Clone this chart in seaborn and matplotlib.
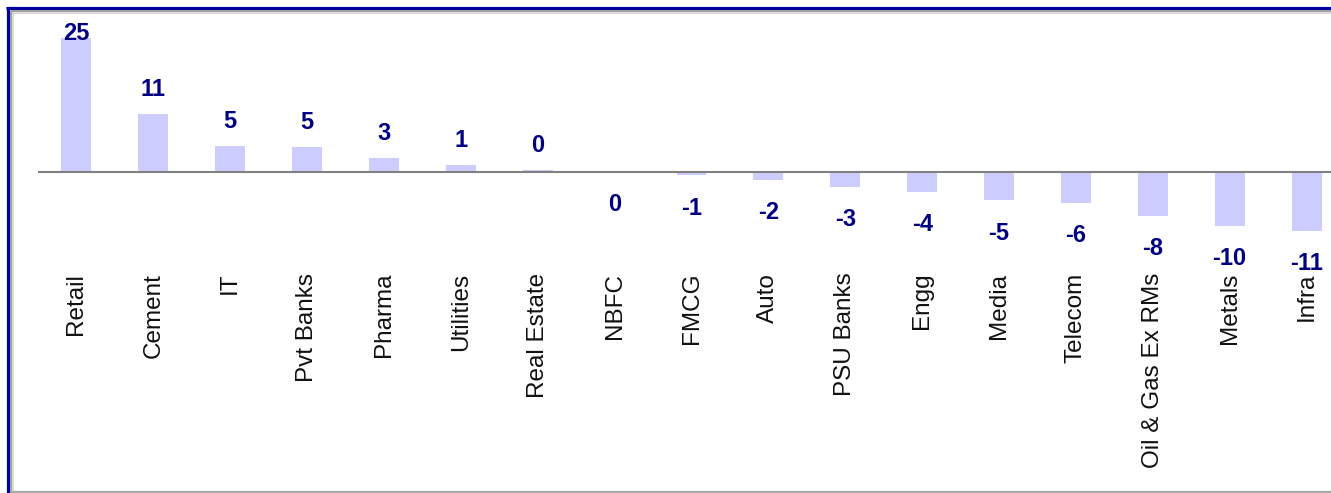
import matplotlib
matplotlib.use("Agg")
import matplotlib.pyplot as plt
from matplotlib.lines import Line2D
import seaborn as sns
import pandas as pd

# Sector performance (%)
sectors = ["Retail", "Cement", "IT", "Pvt Banks", "Pharma", "Utilities",
           "Real Estate", "NBFC", "FMCG", "Auto", "PSU Banks", "Engg",
           "Media", "Telecom", "Oil & Gas Ex RMs", "Metals", "Infra"]
returns = [25.2, 10.9, 4.8, 4.6, 2.6, 1.3, 0.4, -0.1, -0.7, -1.6, -2.8,
           -3.8, -5.4, -5.9, -8.4, -10.3, -11.1]

BAR_COLOR = "#CCCCFF"
LABEL_COLOR = "#000080"

sns.set_style("white")
plt.rcParams["font.family"] = ["Liberation Sans", "DejaVu Sans"]

W, H = 1331, 493
fig = plt.figure(figsize=(W / 100, H / 100), dpi=100)
fig.patch.set_facecolor("white")

# plot area in pixel terms, extending slightly past the right edge
left_px, right_px = 38.0, 1345.0
top_px, bottom_px = 18.0, 265.0
ax = fig.add_axes([left_px / W, 1 - bottom_px / H,
                   (right_px - left_px) / W, (bottom_px - top_px) / H])

df = pd.DataFrame({"sector": sectors, "ret": returns})
sns.barplot(data=df, x="sector", y="ret", order=sectors, color=BAR_COLOR,
            saturation=1, width=0.39, linewidth=0, ax=ax)

zero_px, px_per_unit = 171.7, 5.3
ymax = (zero_px - top_px) / px_per_unit
ymin = -(bottom_px - zero_px) / px_per_unit
ax.set_ylim(ymin, ymax)
ax.set_xlim(-0.5, len(sectors) - 0.5)

ax.axhline(0, color="#808080", lw=1.5, zorder=3)

for s in ax.spines.values():
    s.set_visible(False)
ax.set_yticks([])
ax.set_xlabel("")
ax.set_ylabel("")
ax.tick_params(axis="x", length=0, pad=5.5)
ax.set_xticks(range(len(sectors)))
ax.set_xticklabels(sectors, rotation=90, fontsize=17.5, color="#111111",
                   va="top", ha="center")

# value labels
for i, v in enumerate(returns):
    txt = f"{int(round(v))}"
    if v >= 0:
        y = min(v + 3.4, ymax - 4.15)
        ax.text(i, y, txt, ha="center", va="baseline", fontsize=17,
                fontweight="bold", color=LABEL_COLOR)
    else:
        ax.text(i, v - 4.0, txt, ha="center", va="top", fontsize=17,
                fontweight="bold", color=LABEL_COLOR)


def fx(px):
    return px / W


def fy(py):
    return 1 - py / H


# frame: blue outer edge, grey inner edge
fig.add_artist(Line2D([fx(7.5), fx(7.5)], [fy(6.5), fy(H + 2)],
                      color="#0000A0", lw=2.3, solid_capstyle="butt"))
fig.add_artist(Line2D([fx(6), fx(W + 2)], [fy(8), fy(8)],
                      color="#0000A0", lw=2.3, solid_capstyle="butt"))
fig.add_artist(Line2D([fx(11), fx(11)], [fy(10.5), fy(H + 2)],
                      color="#A0A0A0", lw=1.4, solid_capstyle="butt"))
fig.add_artist(Line2D([fx(10.5), fx(W + 2)], [fy(11), fy(11)],
                      color="#A0A0A0", lw=1.4, solid_capstyle="butt"))
fig.add_artist(Line2D([fx(13), fx(13)], [fy(12.5), fy(H + 2)],
                      color="#D4D4D4", lw=1.2, solid_capstyle="butt"))
fig.add_artist(Line2D([fx(12.5), fx(W + 2)], [fy(13), fy(13)],
                      color="#D4D4D4", lw=1.2, solid_capstyle="butt"))
fig.add_artist(Line2D([fx(10.5), fx(W + 2)], [fy(491.5), fy(491.5)],
                      color="#A8A8A8", lw=1.6, solid_capstyle="butt"))

fig.savefig("out.png", dpi=100, facecolor="white")
